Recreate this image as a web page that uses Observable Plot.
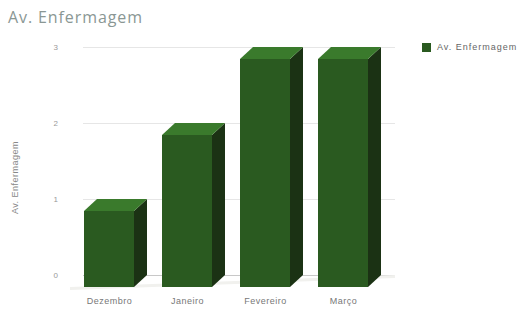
<!DOCTYPE html>
<html>
<head>
<meta charset="utf-8">
<script src="https://cdn.jsdelivr.net/npm/d3@7"></script>
<script src="https://cdn.jsdelivr.net/npm/@observablehq/plot@0.6"></script>
<style>
  html, body { margin: 0; padding: 0; background: #fff; }
  #wrap { position: relative; width: 520px; height: 314px; overflow: hidden; }
  #title { position: absolute; left: 8px; top: 6px; font-family: "Open Sans", sans-serif; font-size: 16px; color: #8a9794; letter-spacing: 0.9px; }
  #legend { position: absolute; left: 422px; top: 42px; font-family: "Liberation Sans", Arial, sans-serif; font-size: 9px; letter-spacing: 1px; color: #666; display: flex; align-items: center; }
  #legend .sw { width: 9px; height: 9px; background: #2a5a20; margin-right: 6px; }
  #chart { position: absolute; left: 0; top: 0; }
  #chart svg text { letter-spacing: 0.5px; }
</style>
</head>
<body>
<div id="wrap">
  <div id="chart"></div>
  <div id="title">Av. Enfermagem</div>
  <div id="legend"><span class="sw"></span><span>Av. Enfermagem</span></div>
</div>
<script>
const categories = ["Dezembro", "Janeiro", "Fevereiro", "Março"];
const values = [1, 2, 3, 3];
const yTicks = [0, 1, 2, 3];
const seriesName = "Av. Enfermagem";

// 3D geometry expressed in data units (slot = 78px, 1 y-unit = 76px)
const HW = 25 / 78;   // half bar width
const DX = 13 / 78;   // depth offset in x
const DY = 12 / 76;   // depth offset in y

const frontFaces = values.map((v, i) => ({x1: i - DX - HW, x2: i - DX + HW, y1: -DY, y2: v - DY}));
const topFaces = values.flatMap((v, i) => [
  {z: i, y: v - DY, x1: i - DX - HW, x2: i - DX + HW},
  {z: i, y: v, x1: i - HW, x2: i + HW}
]);
const sideFaces = values.flatMap((v, i) => [
  {z: i, x: i - DX + HW, y1: -DY, y2: v - DY},
  {z: i, x: i + HW, y1: 0, y2: v}
]);
const floorBand = [
  {x: -0.5 - DX, y1: -DY - 0.04, y2: -DY},
  {x: 3.5, y1: -0.04, y2: 0}
];

const chart = Plot.plot({
  width: 520,
  height: 314,
  marginLeft: 83,
  marginRight: 125,
  marginTop: 47,
  marginBottom: 39,
  style: {fontFamily: "Liberation Sans, Arial, sans-serif", fontSize: "8px", color: "#777", background: "transparent"},
  x: {domain: [-0.5, 3.5], axis: null},
  y: {domain: [0, 3], axis: null},
  marks: [
    Plot.gridY(yTicks, {stroke: "#e6e6e6", strokeOpacity: 1}),
    Plot.axisY(yTicks, {tickSize: 0, tickPadding: 25, tickFormat: d3.format("d"), fill: "#999", fontSize: 8}),
    Plot.axisX([0, 1, 2, 3], {tickSize: 0, tickPadding: 22, dx: -13, tickFormat: i => categories[i], fill: "#777", fontSize: 9}),
    Plot.ruleY([0], {stroke: "#c8c8c8"}),
    Plot.text([seriesName], {frameAnchor: "left", textAnchor: "middle", rotate: -90, dx: -68, dy: 16, fill: "#888", fontSize: 9}),
    Plot.areaY(floorBand, {x: "x", y1: "y1", y2: "y2", fill: "#f1f1ee"}),
    Plot.areaY(sideFaces, {x: "x", y1: "y1", y2: "y2", z: "z", fill: "#1b3214"}),
    Plot.areaX(topFaces, {y: "y", x1: "x1", x2: "x2", z: "z", fill: "#3a7a2c"}),
    Plot.rect(frontFaces, {x1: "x1", x2: "x2", y1: "y1", y2: "y2", fill: "#2a5a20"})
  ]
});
document.getElementById("chart").appendChild(chart);
</script>
</body>
</html>
